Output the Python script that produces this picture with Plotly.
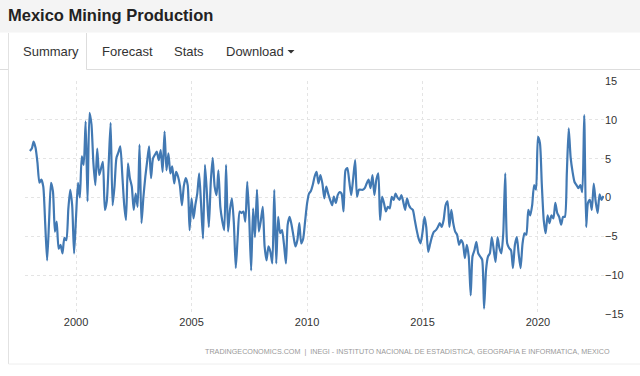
import pandas as pd
import plotly.graph_objects as go

# ---- data (monthly, Jan 1998 .. Nov 2022), % change YoY ----
start_month = "1998-01-01"
values = [
    # 1998
    6.0, 6.3, 7.2, 6.4, 4.5, 1.9, 2.3, 1.4, -3.5, -8.1, -3.0, 1.9,
    # 1999
    0.8, -4.4, -3.1, -6.6, -6.1, -7.2, -5.2, -5.5, -1.5, 1.0, -1.0, -7.2,
    # 2000
    -2.5, 1.9, 0.0, 5.3, 4.2, 9.8, -0.5, 10.9, 9.4, 4.5, 1.6, 6.3,
    # 2001
    2.9, 3.8, 4.6, -1.6, -0.5, 4.5, 9.6, -1.0, 1.5, 5.1, 5.8, 6.6,
    # 2002
    3.0, -1.0, -2.9, 4.4, 2.5, 1.4, -1.6, 0.5, -1.2, 6.8, -3.3, 0.0,
    # 2003
    2.7, 4.8, 6.6, 2.5, 5.0, 5.5, 5.9, 4.8, 6.1, 3.3, 8.5, 3.5,
    # 2004
    5.7, 3.1, 4.0, 1.8, 3.3, 2.7, 1.5, -1.0, 1.5, 2.5, 1.6, -4.2,
    # 2005
    -0.1, -2.7, -1.0, 0.5, 3.1, -1.0, -5.3, 4.2, 0.5, -3.8, 2.0, 5.1,
    # 2006
    1.4, 0.3, 3.5, -1.2, -3.0, -4.2, 4.2, -4.4, -1.5, -0.1, -3.3, -9.1,
    # 2007
    -5.0, -1.8, -2.0, -1.8, -3.1, 2.0, -2.5, -9.4, -1.4, -5.1, 1.0, -4.4,
    # 2008
    -3.0, -1.2, -6.3, -8.1, -6.3, -7.0, -8.5, 1.0, -8.5, -2.5, -4.6, -4.2,
    # 2009
    -6.0, -8.5, -3.5, -2.5, -3.5, -5.0, -6.3, -5.5, -3.3, -5.9, -5.3, -3.1,
    # 2010
    -0.8, 0.5, 0.8, 1.6, 2.7, 3.3, 1.8, 2.9, 1.8, -0.1, 1.4, 0.5,
    # 2011
    -0.3, -1.0, 0.1, -0.7, 0.3, 0.7, 0.5, -1.8, 3.5, 3.8, 2.0, 0.3,
    # 2012
    2.5, 4.8, 0.1, 1.0, 1.0, 1.0, 1.2, 1.8, 2.3, 1.2, 2.9, 0.3,
    # 2013
    2.3, 3.1, -2.9, 0.1, -0.7, -1.8, -1.2, -1.4, 0.1, -0.3, 0.5, 0.0,
    # 2014
    -0.3, 0.3, -0.5, -1.6, -0.1, -1.0, -1.4, -1.6, -2.9, -4.2, -5.3, -5.9,
    # 2015
    -4.5, -2.5, -3.8, -7.0, -6.0, -5.0, -4.4, -4.2, -3.8, -3.3, -3.8, -2.9,
    # 2016
    -1.0, -0.5, -3.8, -1.6, -3.3, -4.4, -4.8, -6.1, -5.5, -5.9, -7.8, -6.1,
    # 2017
    -7.6, -12.6, -7.6, -6.8, -5.7, -7.2, -7.6, -8.0, -14.3, -9.4, -7.6, -7.2,
    # 2018
    -5.1, -6.8, -8.3, -5.1, -6.5, -7.2, -4.6, 3.1, -5.9, -6.5, -6.8, -9.1,
    # 2019
    -6.1, -5.1, -7.2, -9.1, -6.0, -4.6, -4.8, -1.6, -2.3, -1.0, 1.6, 1.0,
    # 2020
    7.8, 7.0, 1.8, -2.9, -4.6, -2.3, -3.3, -2.3, -2.7, -0.7, -2.0, -2.5,
    # 2021
    -3.5, -2.5, -2.5, 3.1, 8.9, 5.1, 3.3, 2.0, 1.6, 1.2, 1.6, 0.7,
    # 2022
    10.6, -3.8, -0.7, -0.3, -1.6, 1.8, -0.5, -2.0, 0.4, -0.3, 0.2,
]
dates = pd.date_range(start_month, periods=len(values), freq="MS")

x_tick_years = ["2000-01-01", "2005-01-01", "2010-01-01", "2015-01-01", "2020-01-01"]
x_tick_labels = ["2000", "2005", "2010", "2015", "2020"]
y_ticks = [-15, -10, -5, 0, 5, 10, 15]

title_text = "Mexico Mining Production"
tabs = ["Summary", "Forecast", "Stats", "Download"]
source_text = ("TRADINGECONOMICS.COM  |  INEGI - INSTITUTO NACIONAL DE ESTADISTICA, "
               "GEOGRAFIA E INFORMATICA, MEXICO")

# ---- layout geometry (pixels) ----
W, H = 640, 376
PL, PR, PT, PB = 25, 604, 81, 314


def fx(px):
    return (px - PL) / (PR - PL)


def fy(py):
    return (PB - py) / (PB - PT)


FONT = "Arial, Liberation Sans, sans-serif"
LINE = "#4279b3"
GRID = "#e4e4e4"

fig = go.Figure()
fig.add_trace(go.Scatter(
    x=dates, y=values, mode="lines",
    line=dict(color=LINE, width=2.2, shape="spline", smoothing=0.6),
    hoverinfo="skip", showlegend=False,
))

shapes = [
    # header band
    dict(type="rect", xref="paper", yref="paper", x0=fx(0), x1=fx(W), y0=fy(0), y1=fy(32.5),
         fillcolor="#f4f4f4", line=dict(width=0), layer="below"),
    # tab row baseline (left of Summary tab and right of it)
    dict(type="line", xref="paper", yref="paper", x0=fx(0), x1=fx(8), y0=fy(69.5), y1=fy(69.5),
         line=dict(color="#dddddd", width=1)),
    dict(type="line", xref="paper", yref="paper", x0=fx(86.5), x1=fx(W), y0=fy(69.5), y1=fy(69.5),
         line=dict(color="#dddddd", width=1)),
    # Summary tab / panel left border
    dict(type="line", xref="paper", yref="paper", x0=fx(8.5), x1=fx(8.5), y0=fy(33), y1=fy(364),
         line=dict(color="#e2e2e2", width=1)),
    dict(type="line", xref="paper", yref="paper", x0=fx(86.5), x1=fx(86.5), y0=fy(33), y1=fy(69.5),
         line=dict(color="#dddddd", width=1)),
    # panel bottom border
    dict(type="line", xref="paper", yref="paper", x0=fx(8.5), x1=fx(W), y0=fy(364), y1=fy(364),
         line=dict(color="#eeeeee", width=1)),
    # dropdown caret
    dict(type="path", xref="paper", yref="paper",
         path=f"M {fx(287.5)},{fy(50)} L {fx(294.5)},{fy(50)} L {fx(291)},{fy(53.5)} Z",
         fillcolor="#333333", line=dict(width=0)),
]

annotations = [
    dict(text=f"<b>{title_text}</b>", x=fx(6), y=fy(15), xref="paper", yref="paper",
         xanchor="left", yanchor="middle", showarrow=False,
         font=dict(family=FONT, size=16.5, color="#222222")),
    dict(text=source_text, x=fx(612), y=fy(351), xref="paper", yref="paper",
         xanchor="right", yanchor="middle", showarrow=False,
         font=dict(family=FONT, size=7.2, color="#999999")),
]
tab_x = [21, 100, 172, 224]
for label, tx in zip(tabs, tab_x):
    annotations.append(dict(text=label, x=fx(tx), y=fy(52), xref="paper", yref="paper",
                            xanchor="left", yanchor="middle", showarrow=False,
                            font=dict(family=FONT, size=13, color="#333333")))

fig.update_layout(
    width=W, height=H,
    margin=dict(l=PL, r=W - PR, t=PT, b=H - PB, pad=0),
    paper_bgcolor="white", plot_bgcolor="white",
    shapes=shapes, annotations=annotations,
    xaxis=dict(
        type="date", range=["1997-10-16", "2022-11-10"],
        tickvals=x_tick_years, ticktext=x_tick_labels,
        showgrid=True, gridcolor=GRID, gridwidth=1, griddash="dot",
        zeroline=False, showline=False, ticks="",
        tickfont=dict(family=FONT, size=11, color="#333333"),
    ),
    yaxis=dict(
        side="right", range=[-15, 15], tickvals=y_ticks,
        showgrid=True, gridcolor=GRID, gridwidth=1, griddash="dot",
        zeroline=False, showline=False, ticks="",
        tickfont=dict(family=FONT, size=11, color="#333333"),
    ),
)

fig.write_html(
    "out.html",
    config={"displayModeBar": False},
    post_script="document.body.style.margin='0';document.body.style.padding='0';",
)
